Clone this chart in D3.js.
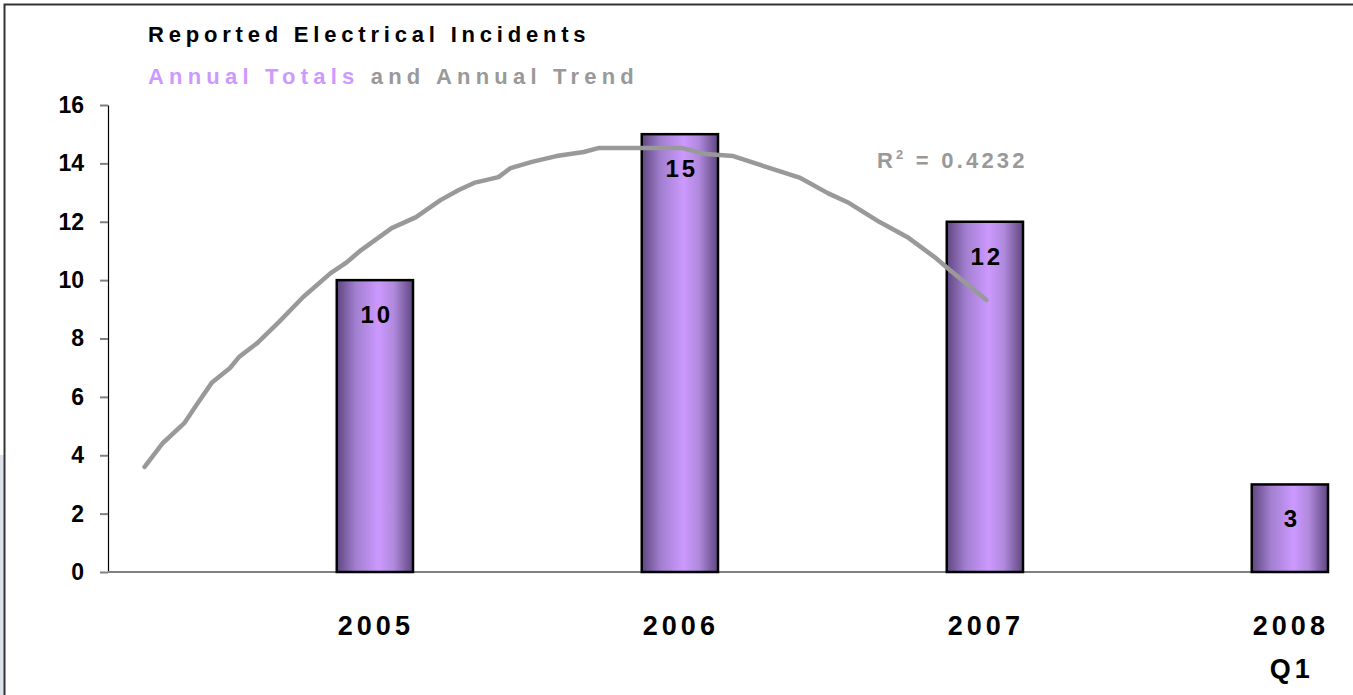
<!DOCTYPE html>
<html>
<head>
<meta charset="utf-8">
<script src="https://cdn.jsdelivr.net/npm/d3@7"></script>
<style>
  body { margin: 0; background: #fff; }
  text { font-family: "Liberation Sans Narrow", "Arial Narrow", "Liberation Sans", Arial, sans-serif; font-weight: bold; }
</style>
</head>
<body>
<div id="chart"></div>
<script>
// reported incidents, bars + hand-read polynomial trend

var categories = ["2005", "2006", "2007", "2008"];
var categorySub = ["", "", "", "Q1"];
var totals = [10, 15, 12, 3];
var yTicks = [0, 2, 4, 6, 8, 10, 12, 14, 16];

// trend line: u = position in category bands, v = value
var trendU = [0.12, 0.18, 0.25, 0.29, 0.34, 0.40, 0.43, 0.49, 0.56, 0.64, 0.73, 0.78, 0.83, 0.93,
              1.01, 1.09, 1.15, 1.20, 1.28, 1.32, 1.39, 1.47, 1.56, 1.61, 1.78, 1.88, 1.96, 2.05,
              2.16, 2.27, 2.36, 2.43, 2.53, 2.62, 2.71, 2.76, 2.88];
var trendV = [3.60, 4.42, 5.10, 5.72, 6.48, 6.99, 7.37, 7.85, 8.56, 9.42, 10.24, 10.59, 11.03, 11.78,
              12.16, 12.74, 13.09, 13.33, 13.53, 13.84, 14.05, 14.25, 14.39, 14.53, 14.53, 14.53, 14.32, 14.25,
              13.87, 13.50, 12.98, 12.64, 11.99, 11.48, 10.79, 10.35, 9.32];
var rSquared = "0.4232";

var width = 1353,
    height = 695;

var svg = d3.select("#chart").append("svg")
    .attr("width", width)
    .attr("height", height);

// frame
svg.append("rect")
    .attr("x", 0).attr("y", 455).attr("width", 4).attr("height", 240)
    .attr("fill", "#dde2ea");
svg.append("rect")
    .attr("x", 4.5).attr("y", 4.5).attr("width", width + 10).attr("height", height + 10)
    .attr("fill", "none").attr("stroke", "#333").attr("stroke-width", 2);

var plotLeft = 108, plotRight = 1328, plotTop = 105, plotBottom = 572;

var x = d3.scaleBand()
    .domain(categories)
    .range([plotLeft, plotRight])
    .padding(0);

var u = d3.scaleLinear()          // continuous band units for the trend
    .domain([0, categories.length])
    .range([plotLeft, plotRight]);

var y = d3.scaleLinear()
    .domain([0, 16])
    .range([plotBottom, plotTop]);

// bar gradient
var grad = svg.append("defs").append("linearGradient")
    .attr("id", "barGrad")
    .attr("x1", "0%").attr("x2", "100%").attr("y1", "0%").attr("y2", "0%");
grad.append("stop").attr("offset", "0%").attr("stop-color", "#5f4680");
grad.append("stop").attr("offset", "25%").attr("stop-color", "#a27fd0");
grad.append("stop").attr("offset", "55%").attr("stop-color", "#cc99ff");
grad.append("stop").attr("offset", "75%").attr("stop-color", "#b089dc");
grad.append("stop").attr("offset", "100%").attr("stop-color", "#5f4680");

// y axis
var yAxis = svg.append("g")
    .attr("transform", "translate(" + plotLeft + ",0)")
    .call(d3.axisLeft(y).tickValues(yTicks).tickSize(8).tickPadding(16).tickSizeOuter(0));
yAxis.select(".domain").attr("stroke", "#000").attr("stroke-width", 1.2);
yAxis.selectAll(".tick line").attr("stroke", "#808080").attr("stroke-width", 2);
yAxis.selectAll(".tick text")
    .attr("fill", "#000")
    .style("font-size", "23px")
    .style("font-weight", "bold")
    .style("font-family", "'Liberation Sans Narrow', 'Arial Narrow', 'Liberation Sans', sans-serif");

// x axis line
svg.append("line")
    .attr("x1", plotLeft).attr("x2", plotRight)
    .attr("y1", y(0)).attr("y2", y(0))
    .attr("stroke", "#808080").attr("stroke-width", 2);

var barW = x.bandwidth() * 0.25;
function barX(c) { return x(c) + x.bandwidth() - barW; }

// bars
svg.selectAll("rect.bar")
    .data(totals)
    .enter().append("rect")
    .attr("class", "bar")
    .attr("x", function(d, i) { return barX(categories[i]); })
    .attr("y", function(d) { return y(d); })
    .attr("width", barW)
    .attr("height", function(d) { return y(0) - y(d); })
    .attr("fill", "url(#barGrad)")
    .attr("stroke", "#000")
    .attr("stroke-width", 2.5);

// value labels
svg.selectAll("text.val")
    .data(totals)
    .enter().append("text")
    .attr("class", "val")
    .attr("x", function(d, i) { return barX(categories[i]) + barW / 2 + 2; })
    .attr("y", function(d) { return y(d) + 43; })
    .attr("text-anchor", "middle")
    .attr("font-size", 24)
    .attr("letter-spacing", 3)
    .attr("fill", "#000")
    .text(function(d) { return d; });

// category labels
svg.selectAll("text.cat")
    .data(categories)
    .enter().append("text")
    .attr("class", "cat")
    .attr("x", function(d) { return barX(d) + barW / 2 + 1; })
    .attr("y", 635)
    .attr("text-anchor", "middle")
    .attr("font-size", 27)
    .attr("letter-spacing", 4)
    .attr("fill", "#000")
    .text(function(d) { return d; });
svg.selectAll("text.sub")
    .data(categorySub)
    .enter().append("text")
    .attr("class", "sub")
    .attr("x", function(d, i) { return barX(categories[i]) + barW / 2 + 2; })
    .attr("y", 678)
    .attr("text-anchor", "middle")
    .attr("font-size", 27)
    .attr("letter-spacing", 4)
    .attr("fill", "#000")
    .text(function(d) { return d; });

// trend line
var trend = trendU.map(function(d, i) { return [d, trendV[i]]; });
svg.append("path")
    .datum(trend)
    .attr("fill", "none")
    .attr("stroke", "#999999")
    .attr("stroke-width", 4.5)
    .attr("stroke-linecap", "round")
    .attr("stroke-linejoin", "round")
    .attr("d", d3.line().x(function(d) { return u(d[0]); }).y(function(d) { return y(d[1]); }));

// R squared
var r2 = svg.append("text")
    .attr("x", 877).attr("y", 168)
    .attr("font-size", 22)
    .attr("letter-spacing", 3.2)
    .attr("fill", "#999999");
r2.append("tspan").text("R");
r2.append("tspan").attr("dy", -9).attr("font-size", 13).text("2");
r2.append("tspan").attr("dy", 9).text(" = " + rSquared);

// titles
svg.append("text")
    .attr("x", 148).attr("y", 42)
    .attr("font-size", 22)
    .attr("letter-spacing", 4.8)
    .attr("fill", "#000")
    .text("Reported Electrical Incidents");

var sub = svg.append("text")
    .attr("x", 148).attr("y", 84)
    .attr("font-size", 22)
    .attr("letter-spacing", 5.2)
    .attr("fill", "#999999");
sub.append("tspan").attr("fill", "#cc99ff").text("Annual Totals");
sub.append("tspan").text(" and Annual Trend");
</script>
</body>
</html>
